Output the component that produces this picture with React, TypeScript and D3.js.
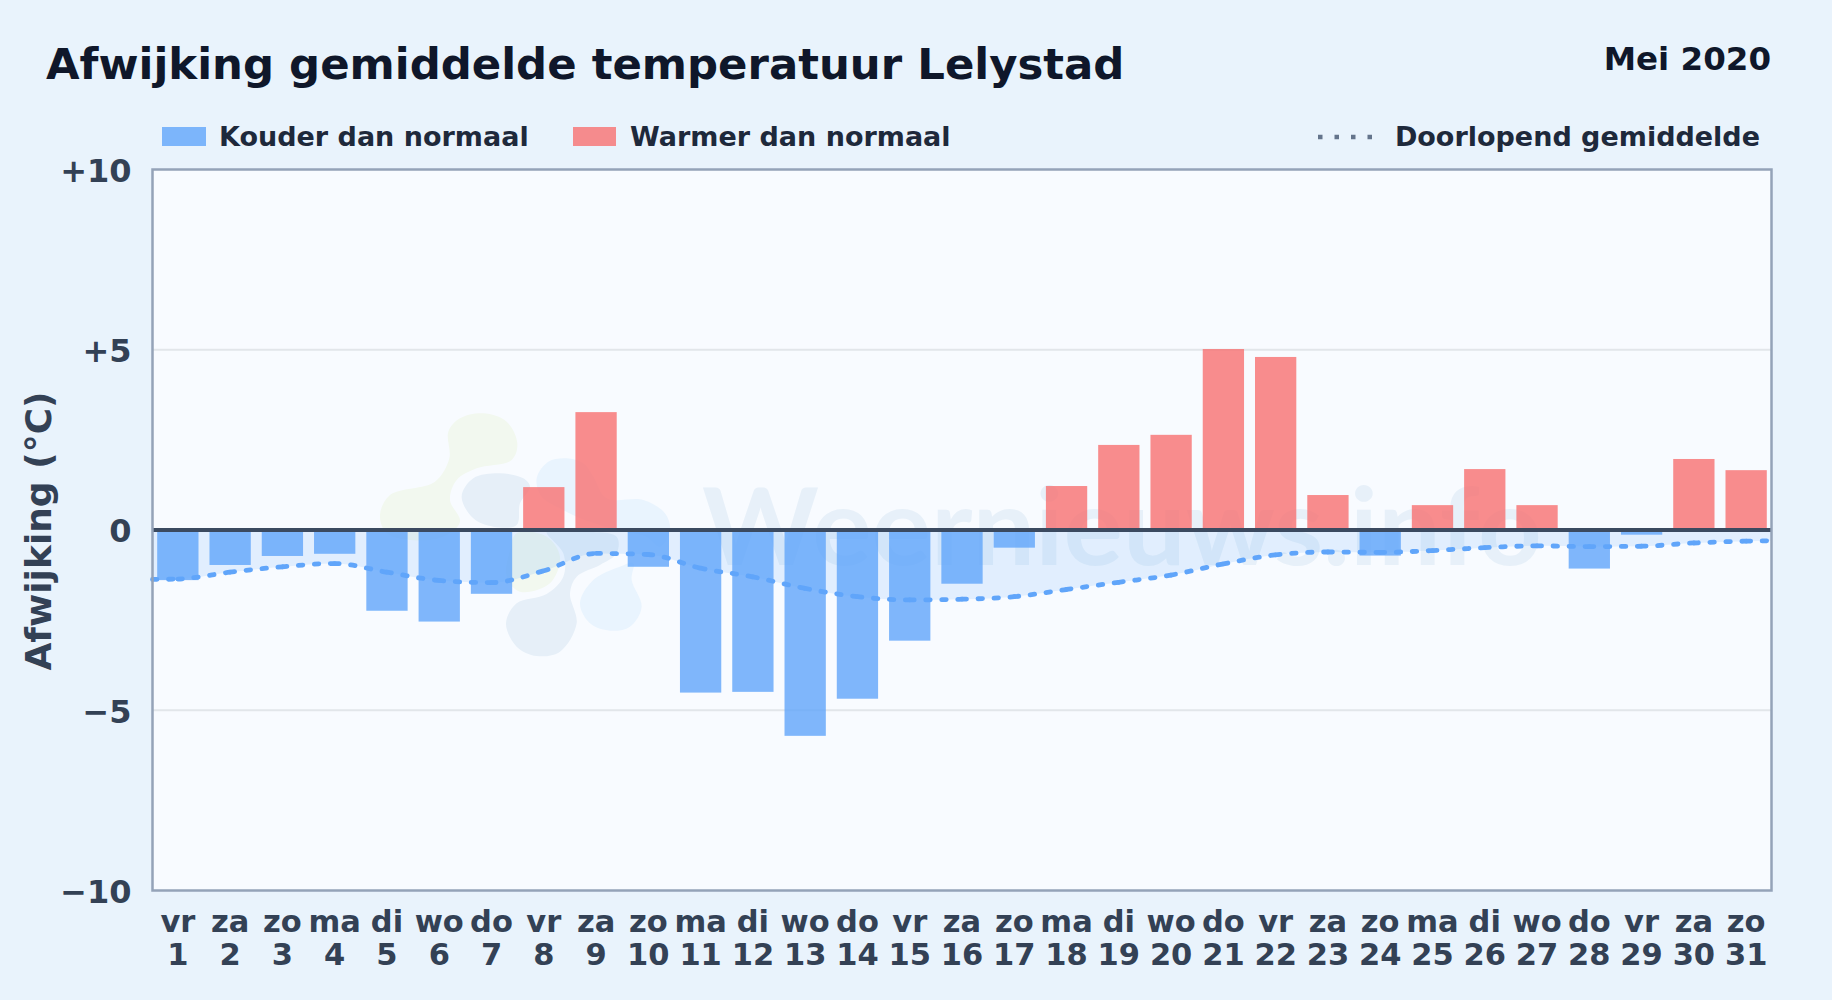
import { useRef, useEffect } from 'react';
import * as d3 from 'd3';

const weekdays = ['vr', 'za', 'zo', 'ma', 'di', 'wo', 'do', 'vr', 'za', 'zo', 'ma', 'di', 'wo', 'do', 'vr', 'za', 'zo', 'ma', 'di', 'wo', 'do', 'vr', 'za', 'zo', 'ma', 'di', 'wo', 'do', 'vr', 'za', 'zo'];
const days = d3.range(1, 32);
const deviation = [-1.39, -0.97, -0.72, -0.66, -2.24, -2.54, -1.77, 1.19, 3.27, -1.02, -4.51, -4.49, -5.71, -4.68, -3.07, -1.49, -0.49, 1.22, 2.36, 2.64, 5.02, 4.8, 0.97, -0.71, 0.69, 1.69, 0.69, -1.07, -0.13, 1.97, 1.66];
const runningMean = [-1.36, -1.17, -1.02, -0.93, -1.17, -1.4, -1.46, -1.13, -0.65, -0.68, -1.06, -1.3, -1.62, -1.85, -1.94, -1.92, -1.85, -1.65, -1.45, -1.25, -0.94, -0.69, -0.61, -0.62, -0.57, -0.49, -0.44, -0.46, -0.45, -0.36, -0.31];
const meanAtLeftEdge = -1.37;
const meanAtRightEdge = -0.3;
const yTicks = [10, 5, 0, -5, -10];

// watermark logo outlines, in a 3x grid with origin (360, 390)
const logoGreen: [number, number][][] = [
  [[60, 375], [90, 315], [225, 275], [268, 205], [265, 125], [300, 85], [370, 70], [440, 95], [472, 160], [455, 210], [350, 235], [290, 270], [270, 330], [300, 395], [250, 440], [150, 450], [80, 430]],
  [[470, 430], [560, 440], [600, 500], [570, 580], [480, 605], [440, 560], [450, 480]],
];
const logoGrey: [number, number][][] = [
  [[305, 320], [340, 265], [420, 250], [490, 265], [510, 290], [480, 340], [470, 405], [400, 410], [340, 385]],
  [[560, 425], [650, 425], [770, 440], [770, 490], [720, 525], [650, 560], [630, 610], [650, 700], [600, 785], [530, 798], [470, 770], [438, 700], [470, 640], [560, 612], [610, 560], [610, 490]],
];
const logoLight: [number, number][][] = [
  [[530, 265], [565, 215], [620, 205], [670, 220], [700, 260], [740, 325], [850, 330], [915, 370], [930, 420], [900, 470], [860, 440], [770, 420], [650, 380], [600, 355], [545, 320]],
  [[660, 640], [700, 570], [780, 530], [820, 520], [815, 570], [845, 650], [810, 710], [750, 722], [690, 700]],
];

const W = 1832;
const H = 1000;
const FONT = '"DejaVu Sans", sans-serif';
const margin = { top: 169.5, right: 60.5, bottom: 109.5, left: 152.5 };

const App = () => {
  const svgRef = useRef<SVGSVGElement>(null);

  useEffect(() => {
    const svg = d3.select(svgRef.current);
    svg.selectAll('*').remove();

    const right = W - margin.right;
    const bottom = H - margin.bottom;

    const x = d3.scaleBand<number>().domain(days).range([margin.left, right]).paddingInner(0.21).paddingOuter(0.09);
    const y = d3.scaleLinear().domain([-10, 10]).range([bottom, margin.top]);
    const cx = (d: number) => (x(d) || 0) + x.bandwidth() / 2;

    svg.append('rect').attr('width', W).attr('height', H).attr('fill', '#e9f3fc');
    svg.append('rect')
      .attr('x', margin.left).attr('y', margin.top)
      .attr('width', right - margin.left).attr('height', bottom - margin.top)
      .attr('fill', '#f8fbff');

    // Title block
    svg.append('text').attr('x', 46).attr('y', 79)
      .attr('font-size', 43.4).attr('fill', '#0f172a')
      .text('Afwijking gemiddelde temperatuur Lelystad');
    svg.append('text').attr('x', 1771).attr('y', 70).attr('text-anchor', 'end')
      .attr('font-size', 32.5).attr('fill', '#0f172a')
      .text('Mei 2020');

    // Legend
    const legend = svg.append('g').attr('font-size', 27).attr('fill', '#1e293b');
    legend.append('rect').attr('x', 162).attr('y', 127).attr('width', 44).attr('height', 19).attr('fill', '#60a5fa').attr('opacity', 0.8);
    legend.append('text').attr('x', 219).attr('y', 146).text('Kouder dan normaal');
    legend.append('rect').attr('x', 573).attr('y', 127).attr('width', 43).attr('height', 19).attr('fill', '#f87171').attr('opacity', 0.8);
    legend.append('text').attr('x', 630).attr('y', 146).text('Warmer dan normaal');
    legend.append('line').attr('x1', 1318).attr('x2', 1374).attr('y1', 137).attr('y2', 137)
      .attr('stroke', '#64748b').attr('stroke-width', 4.5).attr('stroke-dasharray', '4.5 12');
    legend.append('text').attr('x', 1760).attr('y', 146).attr('text-anchor', 'end').text('Doorlopend gemiddelde');

    // Grid
    svg.append('g').selectAll('line')
      .data([5, -5])
      .join('line')
      .attr('x1', margin.left).attr('x2', right)
      .attr('y1', d => y(d)).attr('y2', d => y(d))
      .attr('stroke', '#e2e6ea').attr('stroke-width', 2);

    // Watermark
    const blob = d3.line().curve(d3.curveCatmullRomClosed.alpha(0.5));
    const logo = svg.append('g').attr('transform', 'translate(360,390) scale(0.3333)');
    const drawBlobs = (shapes: [number, number][][], fill: string) => {
      logo.append('g').selectAll('path').data(shapes).join('path').attr('d', d => blob(d)).attr('fill', fill);
    };
    drawBlobs(logoGreen, '#f2f8ef');
    drawBlobs(logoLight, '#e9f4fe');
    drawBlobs(logoGrey, '#e6eff8');
    svg.append('text')
      .attr('x', 702).attr('y', 565)
      .attr('font-family', 'Lato, sans-serif').attr('font-size', 108)
      .attr('textLength', 840).attr('lengthAdjust', 'spacingAndGlyphs')
      .attr('fill', '#e7f0f9')
      .text('Weernieuws.info');

    // Running mean geometry: plot edge, then every day, then plot edge
    const meanPts: [number, number][] = [
      [margin.left, y(meanAtLeftEdge)],
      ...days.map((d, i): [number, number] => [cx(d), y(runningMean[i])]),
      [right, y(meanAtRightEdge)],
    ];

    const area = d3.area<[number, number]>()
      .x(d => d[0]).y0(y(0)).y1(d => d[1])
      .curve(d3.curveMonotoneX);
    svg.append('path').attr('d', area(meanPts)).attr('fill', '#60a5fa').attr('opacity', 0.15);

    // Bars
    svg.append('g').selectAll('rect')
      .data(days)
      .join('rect')
      .attr('x', d => x(d) || 0)
      .attr('width', x.bandwidth())
      .attr('y', (d, i) => y(Math.max(0, deviation[i])))
      .attr('height', (d, i) => Math.abs(y(deviation[i]) - y(0)))
      .attr('fill', (d, i) => (deviation[i] < 0 ? '#60a5fa' : '#f87171'))
      .attr('opacity', 0.8);

    // Zero line
    svg.append('line')
      .attr('x1', margin.left).attr('x2', right)
      .attr('y1', y(0)).attr('y2', y(0))
      .attr('stroke', '#3b4a60').attr('stroke-width', 4);

    // Running mean: one path per day, so the dash pattern restarts at each point
    const meanD = d3.line().curve(d3.curveMonotoneX)(meanPts) || '';
    const parts = meanD.slice(1).split('C');
    let pen = parts[0];
    const segs = parts.slice(1).map(p => {
      const s = `M${pen}C${p}`;
      pen = p.split(',').slice(-2).join(',');
      return s;
    });
    svg.append('g').selectAll('path')
      .data(segs)
      .join('path')
      .attr('d', d => d)
      .attr('fill', 'none')
      .attr('stroke', '#60a5fa')
      .attr('stroke-width', 4.8)
      .attr('stroke-linecap', 'round')
      .attr('stroke-dasharray', '4.5 11.5');

    // Plot border
    svg.append('rect')
      .attr('x', margin.left).attr('y', margin.top)
      .attr('width', right - margin.left).attr('height', bottom - margin.top)
      .attr('fill', 'none').attr('stroke', '#94a3b8').attr('stroke-width', 2.5);

    // Y axis
    const yAxis = svg.append('g')
      .attr('transform', `translate(${margin.left},1.5)`)
      .call(d3.axisLeft(y).tickValues(yTicks).tickSize(0).tickPadding(21)
        .tickFormat(d => (+d > 0 ? `+${d}` : +d < 0 ? `\u2212${Math.abs(+d)}` : '0')));
    yAxis.select('.domain').remove();
    yAxis.selectAll('text')
      .attr('font-family', FONT).attr('font-weight', 'bold').attr('font-size', 32).attr('fill', '#334155');

    svg.append('text')
      .attr('transform', 'translate(51,531) rotate(-90)')
      .attr('text-anchor', 'middle')
      .attr('font-size', 36).attr('fill', '#334155')
      .text('Afwijking (°C)');

    // X axis, two-line labels
    const xAxis = svg.append('g')
      .attr('transform', `translate(0,${bottom})`)
      .call(d3.axisBottom(x).tickSize(0).tickFormat(() => ''));
    xAxis.select('.domain').remove();
    const tick = xAxis.selectAll<SVGGElement, number>('.tick');
    tick.select('text').remove();
    const label = tick.append('text')
      .attr('text-anchor', 'middle')
      .attr('font-family', FONT).attr('font-weight', 'bold').attr('font-size', 30.5).attr('fill', '#334155');
    label.append('tspan').attr('x', 0).attr('y', 41.5).text(d => weekdays[d - 1]);
    label.append('tspan').attr('x', 0).attr('y', 74.5).text(d => d);
  }, []);

  return (
    <svg
      ref={svgRef}
      width={W}
      height={H}
      fontFamily={FONT}
      fontWeight="bold"
      style={{ position: 'fixed', left: 0, top: 0 }}
    />
  );
};

export default App;
